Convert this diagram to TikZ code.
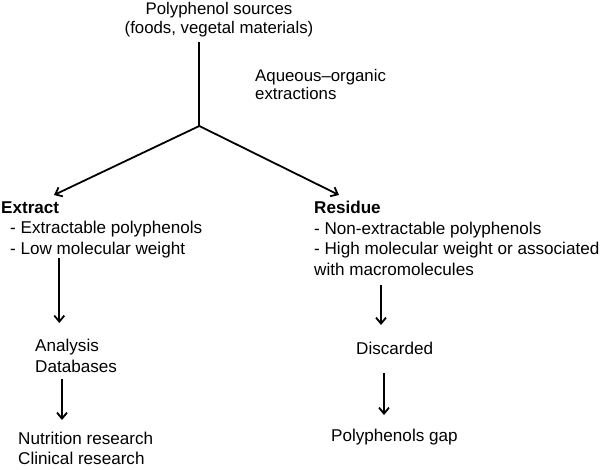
\documentclass[tikz,border=0pt]{standalone}
\usepackage{fontspec}
\setmainfont{Liberation Sans}
\usetikzlibrary{arrows.meta,calc}
\begin{document}
\begin{tikzpicture}[x=1pt,y=-1pt,
  txt/.style={inner sep=0pt, font=\fontsize{17.1}{20.5}\selectfont, align=left},
  line/.style={line width=1.8pt},
  arr/.style={line width=1.8pt, -{Straight Barb[length=6pt,width=10pt]}}]
\useasboundingbox (0,0) rectangle (602,469);
\node[txt, font=\fontsize{16.8}{19}\selectfont, align=center, anchor=base] (src) at (219,33) {Polyphenol sources\\(foods, vegetal materials)};
\node[txt, font=\fontsize{16.8}{18}\selectfont, anchor=base west] (aq) at (255,99) {Aqueous–organic\\extractions};
\node[txt, anchor=base west] (ext) at (1,254) {\textbf{Extract}\\\hspace*{9pt}- Extractable polyphenols\\\hspace*{9pt}- Low molecular weight};
\node[txt, anchor=base west] (res) at (314,275) {\textbf{Residue}\\- Non-extractable polyphenols\\- High molecular weight or associated\\with macromolecules};
\node[txt, anchor=base west] (ana) at (35,372) {Analysis\\Databases};
\node[txt, font=\fontsize{17.1}{19.5}\selectfont, anchor=base west] (nut) at (18,464) {Nutrition research\\Clinical research};
\node[txt, anchor=base west] (dis) at (356,354) {Discarded};
\node[txt, anchor=base west] (gap) at (331,441) {Polyphenols gap};
\coordinate (J) at (199.3,126);
\coordinate (tl) at (54,195);
\coordinate (tr) at (339,195);
\coordinate (a1) at (59.3,323);
\coordinate (r1) at (381,325);
\coordinate (a2) at (62,420);
\coordinate (r2) at (384,415);
\draw[line] ($(src.south -| J)+(0,5)$) -- (J);
\draw[arr] (J) -- (tl);
\draw[arr] (J) -- (tr);
\draw[arr] (ext.south -| a1) -- (a1);
\draw[arr] ($(res.south -| r1)+(0,10)$) -- (r1);
\draw[arr] ($(ana.south -| a2)+(0,7)$) -- (a2);
\draw[arr] ($(dis.south -| r2)+(0,19)$) -- (r2);
\end{tikzpicture}
\end{document}
